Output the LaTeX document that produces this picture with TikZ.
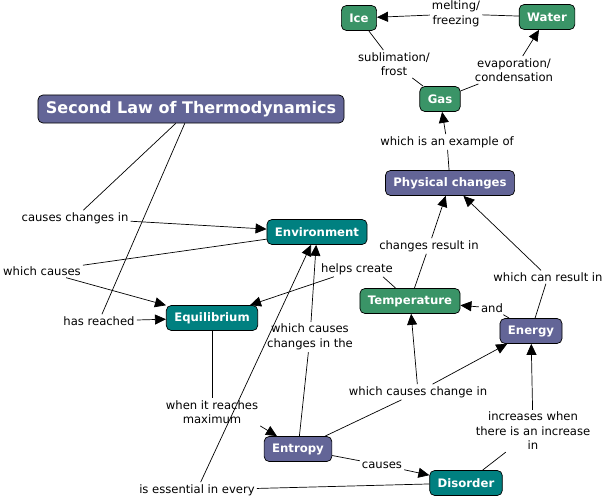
\documentclass[tikz,border=0pt]{standalone}
\usepackage{fontspec}
\setmainfont{DejaVu Sans}
\usepackage{xcolor}
\usetikzlibrary{arrows.meta}

\definecolor{lawpurple}{RGB}{99,101,151}
\definecolor{lawteal}{RGB}{0,128,128}
\definecolor{lawgreen}{RGB}{58,148,103}

\begin{document}
\begin{tikzpicture}[x=1pt,y=-1pt]
\tikzset{concept/.style={draw=black,line width=0.7pt,rounded corners=5pt,text=white,font=\fontsize{11.7}{13}\selectfont\bfseries,inner xsep=8pt,minimum height=25pt}}
\tikzset{purplebox/.style={concept,fill=lawpurple}}
\tikzset{tealbox/.style={concept,fill=lawteal}}
\tikzset{greenbox/.style={concept,fill=lawgreen}}
\tikzset{phrase/.style={font=\fontsize{11.6}{14.5}\selectfont,align=center,inner sep=2pt}}
\tikzset{connector/.style={line width=0.7pt}}
\tikzset{arrowlink/.style={-{Triangle[length=11pt,width=10pt]}}}

\useasboundingbox (0,0) rectangle (607,500);

\node[greenbox] (ice) at (359,18) {Ice};
\node[greenbox] (water) at (547,17) {Water};
\node[greenbox] (gas) at (440,99) {Gas};
\node[purplebox,font=\fontsize{16}{18}\selectfont\bfseries,minimum height=28pt] (law) at (191,109) {Second Law of Thermodynamics};
\node[purplebox] (phys) at (450,183) {Physical changes};
\node[tealbox] (env) at (317,232) {Environment};
\node[greenbox] (temp) at (410,301) {Temperature};
\node[tealbox] (equil) at (212,318) {Equilibrium};
\node[purplebox] (energy) at (531,331) {Energy};
\node[purplebox] (entropy) at (298,449) {Entropy};
\node[tealbox] (disorder) at (466,483) {Disorder};

\node[phrase] (meltlbl) at (456,14) {melting/\\freezing};
\node[phrase] (sublbl) at (394,64) {sublimation/\\frost};
\node[phrase] (evaplbl) at (514,70) {evaporation/\\condensation};
\node[phrase] (examplelbl) at (447,142) {which is an example of};
\node[phrase] (causeslbl) at (75,218) {causes changes in};
\node[phrase] (resultlbl) at (429,246) {changes result in};
\node[phrase] (whichcauseslbl) at (42,271) {which causes};
\node[phrase] (helpslbl) at (357,269) {helps create};
\node[phrase] (canresultlbl) at (548,277) {which can result in};
\node[phrase] (andlbl) at (492,308) {and};
\node[phrase] (reachedlbl) at (99,321) {has reached};
\node[phrase] (changesthelbl) at (310,337) {which causes\\changes in the};
\node[phrase] (changeinlbl) at (418,392) {which causes change in};
\node[phrase] (maxlbl) at (212,412) {when it reaches\\maximum};
\node[phrase] (increaselbl) at (533,431) {increases when\\there is an increase\\in};
\node[phrase] (causedlbl) at (382,465) {causes};
\node[phrase] (essentiallbl) at (197,490) {is essential in every};

\draw[connector] (water) -- (meltlbl);
\draw[connector,arrowlink] (meltlbl) -- (ice);
\draw[connector] (ice) -- (sublbl);
\draw[connector] (sublbl) -- (gas);
\draw[connector] (gas) -- (evaplbl);
\draw[connector,arrowlink] (evaplbl) -- (water);
\draw[connector] (phys) -- (examplelbl);
\draw[connector,arrowlink] (examplelbl) -- (gas);
\draw[connector] (law) -- (causeslbl);
\draw[connector,arrowlink] (causeslbl) -- (env);
\draw[connector] (law) -- (reachedlbl);
\draw[connector,arrowlink] (reachedlbl) -- (equil);
\draw[connector] (env) -- (whichcauseslbl);
\draw[connector,arrowlink] (whichcauseslbl) -- (equil);
\draw[connector] (temp) -- (resultlbl);
\draw[connector,arrowlink] (resultlbl) -- (phys);
\draw[connector] (energy) -- (canresultlbl);
\draw[connector,arrowlink] (canresultlbl) -- (phys);
\draw[connector] (temp) -- ([xshift=-12pt]helpslbl.south east);
\draw[connector,arrowlink] (helpslbl) -- (equil);
\draw[connector] (energy) -- (andlbl);
\draw[connector,arrowlink] (andlbl) -- (temp);
\draw[connector] (entropy) -- (changesthelbl);
\draw[connector,arrowlink] (changesthelbl) -- (env);
\draw[connector] (entropy) -- (changeinlbl);
\draw[connector,arrowlink] (changeinlbl) -- (temp);
\draw[connector,arrowlink] (changeinlbl) -- (energy);
\draw[connector] (equil) -- (maxlbl);
\draw[connector,arrowlink] (maxlbl.south east) -- (entropy);
\draw[connector] (entropy) -- (causedlbl);
\draw[connector,arrowlink] (causedlbl) -- (disorder);
\draw[connector] (disorder) -- (increaselbl);
\draw[connector,arrowlink] (increaselbl) -- (energy);
\draw[connector] (disorder) -- (essentiallbl);
\draw[connector,arrowlink] (essentiallbl) -- (env);

\end{tikzpicture}
\end{document}
